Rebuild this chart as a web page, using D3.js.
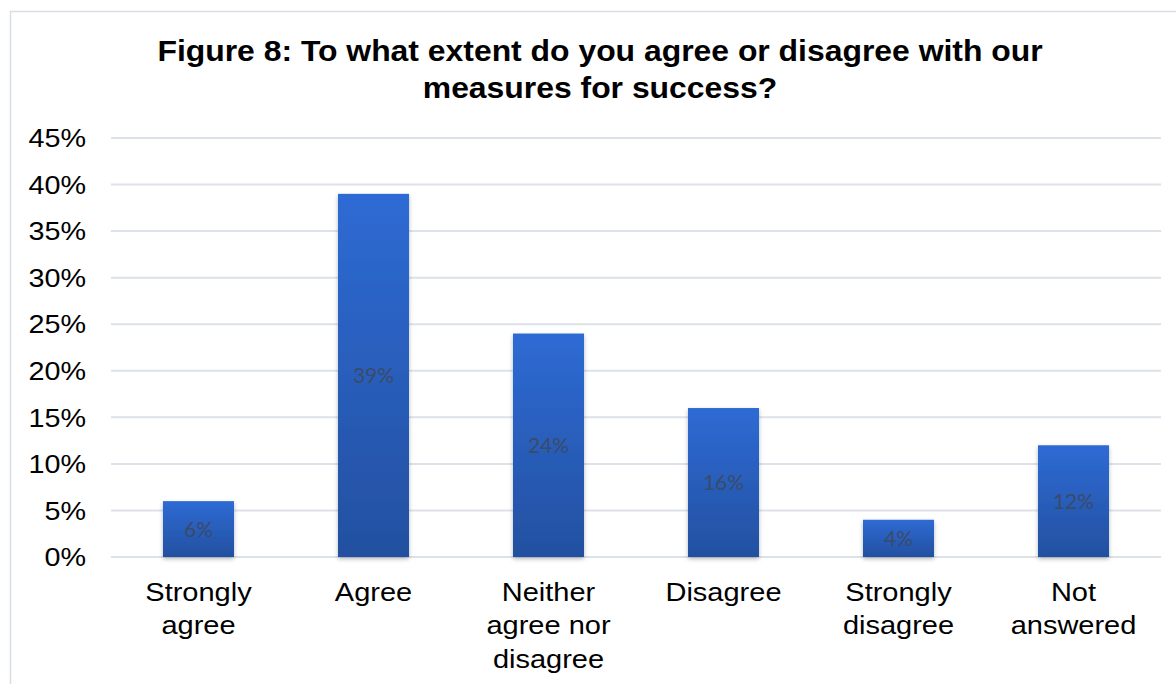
<!DOCTYPE html>
<html>
<head>
<meta charset="utf-8">
<script src="https://cdn.jsdelivr.net/npm/d3@7"></script>
<style>
  html, body { margin: 0; padding: 0; background: #fff; }
  svg { display: block; }
</style>
</head>
<body>
<svg id="chart" width="1176" height="684"></svg>
<script>
const categories = [
  ["Strongly", "agree"],
  ["Agree"],
  ["Neither", "agree nor", "disagree"],
  ["Disagree"],
  ["Strongly", "disagree"],
  ["Not", "answered"]
];
const values = [6, 39, 24, 16, 4, 12];
const tickValues = [0, 5, 10, 15, 20, 25, 30, 35, 40, 45];
const titleLines = [
  "Figure 8: To what extent do you agree or disagree with our",
  "measures for success?"
];

const svg = d3.select("#chart");
const W = 1176, H = 684;
const margin = { left: 111, right: 15, top: 138, bottom: 127 };
const plotW = W - margin.left - margin.right;
const plotH = H - margin.top - margin.bottom;
const ARIAL = "Liberation Sans, Arial, sans-serif";
const WIDEN = 1.15; // text in this chart is set slightly wide

// Places a text horizontally widened around its anchor point
function wideText(parent, tx, ty, sx) {
  return parent.append("g")
    .attr("transform", `translate(${tx},${ty}) scale(${sx},1)`)
    .append("text");
}

// Outer chart frame
svg.append("rect")
  .attr("x", 10.5).attr("y", 11.5)
  .attr("width", W + 10).attr("height", H + 10)
  .attr("fill", "#fff").attr("stroke", "#d9dde6").attr("stroke-width", 1.5);

const defs = svg.append("defs");
const grad = defs.append("linearGradient")
  .attr("id", "barFill").attr("x1", 0).attr("y1", 0).attr("x2", 0).attr("y2", 1);
grad.append("stop").attr("offset", "0%").attr("stop-color", "#2e6bd4");
grad.append("stop").attr("offset", "100%").attr("stop-color", "#2350a0");

const shadow = defs.append("filter").attr("id", "barShadow")
  .attr("x", "-20%").attr("y", "-10%").attr("width", "140%").attr("height", "125%");
shadow.append("feDropShadow")
  .attr("dx", 0).attr("dy", 2).attr("stdDeviation", 2.2)
  .attr("flood-color", "#000").attr("flood-opacity", 0.28);

const x = d3.scaleBand()
  .domain(d3.range(categories.length))
  .range([margin.left, margin.left + plotW])
  .paddingInner(0.594).paddingOuter(0.297);

const y = d3.scaleLinear()
  .domain([0, 45])
  .range([margin.top + plotH, margin.top]);

// Title
const titleG = svg.append("g");
titleLines.forEach((ln, i) => {
  wideText(titleG, 600, 61 + i * 37, 1.1)
    .attr("text-anchor", "middle")
    .attr("font-family", ARIAL)
    .attr("font-weight", "bold").attr("font-size", 29)
    .attr("fill", "#000")
    .text(ln);
});

// Gridlines
svg.append("g").selectAll("line")
  .data(tickValues).join("line")
  .attr("x1", margin.left).attr("x2", margin.left + plotW)
  .attr("y1", d => y(d)).attr("y2", d => y(d))
  .attr("stroke", "#dde2ea").attr("stroke-width", 2);

// Y axis labels (axis generator positions the ticks, text widened afterwards)
const yAxis = d3.axisLeft(y).tickValues(tickValues).tickFormat(d => d + "%").tickSize(0).tickPadding(0);
const yg = svg.append("g").attr("transform", "translate(86,0)").call(yAxis);
yg.select(".domain").remove();
yg.selectAll(".tick text")
  .attr("font-family", ARIAL)
  .attr("font-size", 25).attr("fill", "#000").attr("dy", "0.35em")
  .attr("transform", `scale(${WIDEN},1)`);

// Bars
svg.append("g").selectAll("rect")
  .data(values).join("rect")
  .attr("x", (d, i) => x(i))
  .attr("width", x.bandwidth())
  .attr("y", d => y(d))
  .attr("height", d => y(0) - y(d))
  .attr("fill", "url(#barFill)")
  .attr("filter", "url(#barShadow)");

// Value labels, centred in each bar
svg.append("g").selectAll("text")
  .data(values).join("text")
  .attr("x", (d, i) => x(i) + x.bandwidth() / 2)
  .attr("y", d => (y(d) + y(0)) / 2)
  .attr("dy", "0.36em")
  .attr("text-anchor", "middle")
  .attr("font-family", "Lato, 'Open Sans', sans-serif")
  .attr("font-size", 21)
  .attr("fill", "#404553").attr("fill-opacity", 0.8)
  .text(d => d + "%");

// Category labels
const xg = svg.append("g");
categories.forEach((lines, i) => {
  const t = wideText(xg, x(i) + x.bandwidth() / 2, 601, 1.16)
    .attr("text-anchor", "middle")
    .attr("font-family", ARIAL)
    .attr("font-size", 25).attr("fill", "#000");
  lines.forEach((ln, k) => {
    t.append("tspan")
      .attr("x", 0)
      .attr("dy", k === 0 ? 0 : 33.5)
      .text(ln);
  });
});
</script>
</body>
</html>
